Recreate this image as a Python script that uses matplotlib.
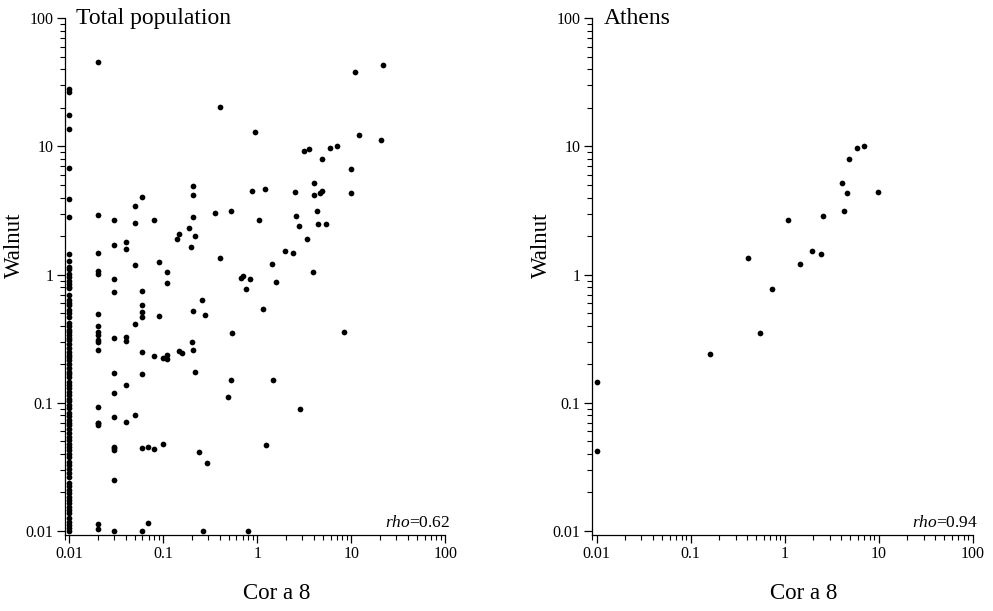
import matplotlib
matplotlib.use("Agg")
import matplotlib.pyplot as plt
from matplotlib.ticker import LogLocator, FuncFormatter, NullFormatter

plt.rcParams['font.family'] = ['Liberation Serif', 'DejaVu Serif']
plt.rcParams['mathtext.fontset'] = 'custom'
plt.rcParams['mathtext.it'] = 'Liberation Serif:italic'
plt.rcParams['mathtext.rm'] = 'Liberation Serif'

# ---- Total population -------------------------------------------------
# samples with Cor a 8 at the detection floor (0.01)
floor_walnut = [28, 26.7, 17.6, 13.8, 6.8, 3.9, 2.8, 1.44, 1.28, 1.15, 1.11,
                1.02, 0.96, 0.89, 0.84, 0.80, 0.78, 0.69, 0.63, 0.60, 0.58,
                0.53, 0.50, 0.47, 0.42, 0.40, 0.37, 0.36, 0.34, 0.32, 0.31,
                0.29, 0.27, 0.25, 0.236, 0.226, 0.216, 0.20, 0.186, 0.175,
                0.168, 0.158, 0.146, 0.138, 0.130, 0.122, 0.115, 0.108, 0.103,
                0.096, 0.091, 0.084, 0.079, 0.074, 0.070, 0.067, 0.063, 0.058,
                0.054, 0.051, 0.048, 0.045, 0.043, 0.040, 0.0376, 0.0347,
                0.0327, 0.0303, 0.0282, 0.0265, 0.0235, 0.0224, 0.0209,
                0.0199, 0.0185, 0.0175, 0.0164, 0.0155, 0.0146, 0.0137,
                0.0126, 0.0118, 0.0111, 0.0105, 0.0100]
floor_cor = [0.01] * len(floor_walnut)

other_cor = [0.02, 0.02, 0.02, 0.02, 0.02, 0.02, 0.02, 0.02, 0.02, 0.02,
             0.02, 0.02, 0.02, 0.02, 0.02, 0.02, 0.02, 0.02,
             0.03, 0.03, 0.03, 0.03, 0.03, 0.03, 0.03, 0.03, 0.03, 0.03,
             0.03, 0.03, 0.03,
             0.04, 0.04, 0.04, 0.04, 0.04, 0.04,
             0.05, 0.05, 0.05, 0.05, 0.05,
             0.06, 0.06, 0.06, 0.06, 0.06, 0.06, 0.06, 0.06, 0.06,
             0.069, 0.069,
             0.08, 0.08, 0.08,
             0.09, 0.09,
             0.10, 0.10,
             0.109, 0.109, 0.109, 0.109,
             0.139, 0.148, 0.148, 0.159,
             0.189, 0.199, 0.208, 0.208, 0.208, 0.219,
             0.202, 0.208, 0.208, 0.219, 0.258, 0.278, 0.24, 0.29, 0.267,
             0.357, 0.40, 0.40, 0.53, 0.54, 0.525, 0.484, 0.79,
             0.67, 0.70, 0.83, 0.75,
             0.88, 0.94, 1.03, 1.21,
             1.58, 3.94, 1.14, 8.28, 1.48, 2.87, 1.24,
             21.6, 10.9, 12.2, 20.9, 3.12, 3.55, 5.89, 6.98, 4.84, 9.98,
             4.04, 2.52, 3.98, 4.66, 4.84, 9.86, 4.32, 2.56, 2.78, 4.39,
             5.38, 3.40, 1.99, 2.42, 1.44]
other_walnut = [45.5, 2.91, 1.48, 1.07, 1.02, 0.49, 0.40, 0.357, 0.34, 0.31,
                0.30, 0.26, 0.092, 0.070, 0.069, 0.067, 0.0113, 0.0103,
                2.67, 1.69, 0.93, 0.73, 0.32, 0.171, 0.119, 0.077, 0.0455,
                0.0442, 0.0428, 0.025, 0.010,
                1.79, 1.59, 0.328, 0.302, 0.139, 0.071,
                3.43, 2.54, 1.18, 0.41, 0.081,
                4.03, 0.74, 0.575, 0.51, 0.47, 0.249, 0.168, 0.0447, 0.010,
                0.0455, 0.0116,
                2.67, 0.232, 0.0436,
                1.25, 0.473,
                0.224, 0.0475,
                1.05, 0.865, 0.236, 0.218,
                1.91, 2.06, 0.255, 0.243,
                2.31, 1.63, 4.89, 4.20, 2.81, 1.99,
                0.30, 0.26, 0.52, 0.173, 0.63, 0.487, 0.0416, 0.0337, 0.010,
                3.04, 20.2, 1.35, 3.15, 0.348, 0.151, 0.111, 0.010,
                0.95, 0.975, 0.925, 0.77,
                4.46, 13.0, 2.68, 4.63,
                0.88, 1.05, 0.54, 0.36, 0.150, 0.090, 0.0466,
                43.4, 37.9, 12.3, 11.2, 9.2, 9.5, 9.8, 10.07, 7.93, 6.66,
                5.15, 4.41, 4.20, 4.35, 4.51, 4.35, 3.15, 2.88, 2.40, 2.48,
                2.48, 1.90, 1.53, 1.47, 1.22]

total_cor = floor_cor + other_cor
total_walnut = floor_walnut + other_walnut

# ---- Athens -----------------------------------------------------------
athens_cor = [0.406, 0.74, 1.08, 1.44, 1.97, 2.43, 2.55, 4.05, 4.32, 4.65,
              4.84, 5.89, 6.95, 9.78, 0.01, 0.01, 0.159, 0.545]
athens_walnut = [1.35, 0.77, 2.68, 1.22, 1.54, 1.45, 2.88, 5.15, 3.15, 4.35,
                 7.93, 9.71, 10.07, 4.38, 0.145, 0.042, 0.241, 0.348]

panel_titles = ["Total population", "Athens"]
rho_values = [0.62, 0.94]
x_label = "Cor a 8"
y_label = "Walnut"

fig = plt.figure(figsize=(9.93, 6.11), dpi=100)
ax_left = fig.add_axes([0.0655, 0.1252, 0.3830, 0.8448])
ax_right = fig.add_axes([0.5965, 0.1252, 0.3831, 0.8448])

panels = [(ax_left, total_cor, total_walnut),
          (ax_right, athens_cor, athens_walnut)]

fmt = FuncFormatter(lambda v, _: f"{v:g}")

for (ax, xs, ys), title, rho in zip(panels, panel_titles, rho_values):
    ax.scatter(xs, ys, s=17, c="black", linewidths=0, zorder=3, clip_on=False)
    ax.set_xscale("log")
    ax.set_yscale("log")
    ax.set_xlim(0.0090, 100)
    ax.set_ylim(0.00939, 100)

    for side in ("top", "right"):
        ax.spines[side].set_visible(False)
    for side in ("left", "bottom"):
        ax.spines[side].set_linewidth(0.9)

    for axis in (ax.xaxis, ax.yaxis):
        axis.set_major_locator(LogLocator(base=10, numticks=10))
        axis.set_minor_locator(LogLocator(base=10, subs=range(2, 10), numticks=10))
        axis.set_major_formatter(fmt)
        axis.set_minor_formatter(NullFormatter())

    ax.tick_params(which="major", direction="out", length=5.5, width=0.9,
                   labelsize=11.5, pad=3, colors="black")
    ax.tick_params(which="minor", direction="out", length=3.5, width=0.8)

    ax.text(0.03, 0.9897, title, transform=ax.transAxes, fontsize=17,
            ha="left", va="baseline")
    ax.text(1.013, 0.015, r"$\mathit{rho}$=" + f"{rho:.2f}",
            transform=ax.transAxes, fontsize=12.5, ha="right", va="baseline")

    ax.set_xlabel(x_label, fontsize=16.5)
    ax.set_ylabel(y_label, fontsize=16.5)
    ax.xaxis.set_label_coords(0.556, -0.094)
    ax.yaxis.set_label_coords(-0.105, 0.56)

fig.savefig("out.png", dpi=100)
